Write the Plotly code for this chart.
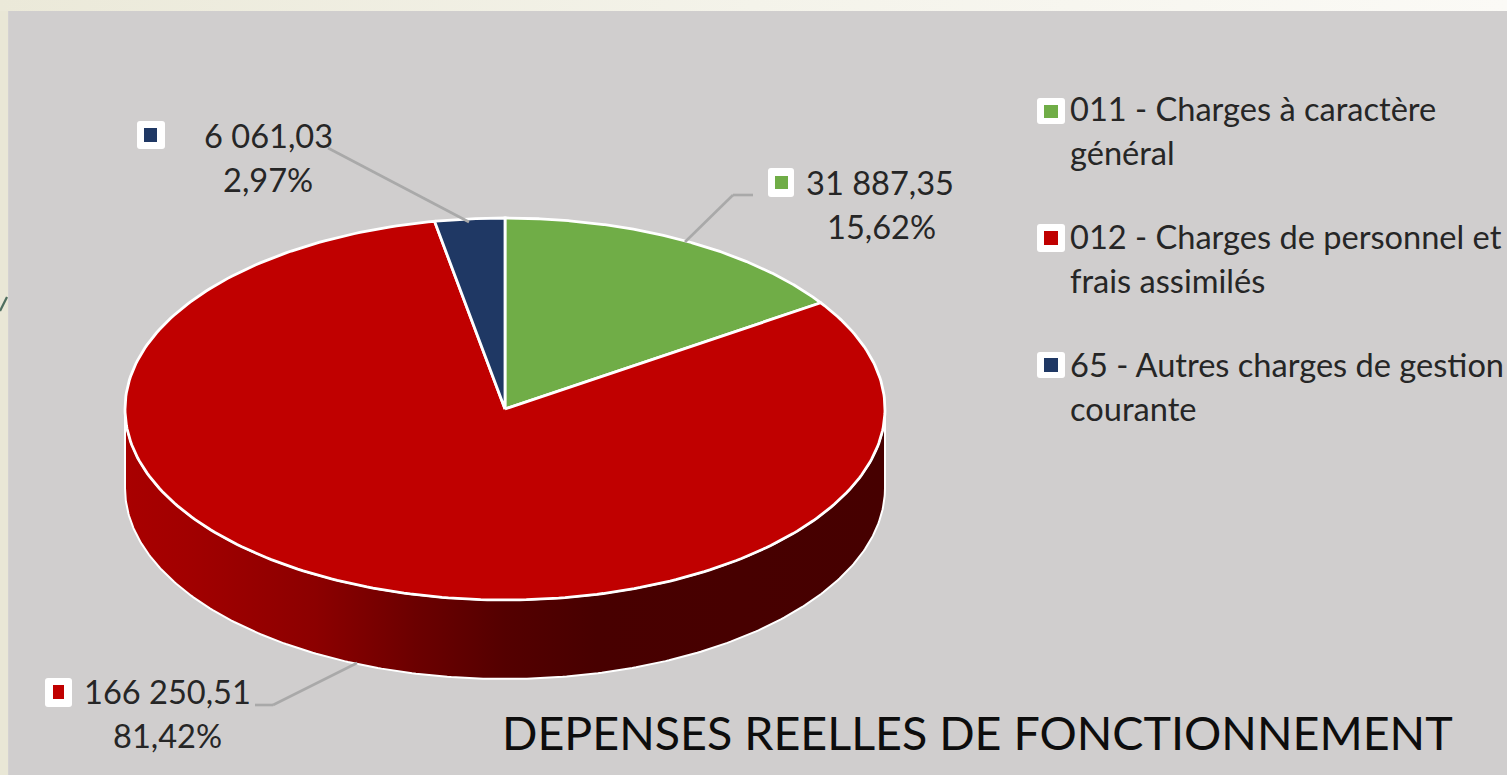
import numpy as np
import plotly.graph_objects as go

# ---- data ----
categories = ["011 - Charges à caractère général",
              "012 - Charges de personnel et frais assimilés",
              "65 - Autres charges de gestion courante"]
values = [31887.35, 166250.51, 6061.03]
value_labels = ["31 887,35", "166 250,51", "6 061,03"]
percent_labels = ["15,62%", "81,42%", "2,97%"]
colors = ["#70ad47", "#c00000", "#1f3864"]
legend_lines = [["011 - Charges à caractère", "général"],
                ["012 - Charges de personnel et", "frais assimilés"],
                ["65 - Autres charges de gestion", "courante"]]
chart_title = "DEPENSES REELLES DE FONCTIONNEMENT"

W, H = 1507, 775
CX, CY, RX, RY, DEPTH = 505, 409, 380, 191, 79
FONT = "Lato"
TEXT = "#262626"
LABEL_SIZE = 32.6


def arc(t0, t1, dy=0, n=300):
    t = np.linspace(t0, t1, n)
    return CX + RX * np.sin(t), CY - RY * np.cos(t) + dy


fig = go.Figure()

# page band and grey panel
fig.add_trace(go.Scatter(
    x=[0, W, W, 0, 0], y=[0, 0, 11, 11, 0], mode="lines", fill="toself",
    line=dict(width=0), hoverinfo="skip", showlegend=False,
    fillgradient=dict(type="horizontal", start=0, stop=W,
                      colorscale=[[0, "#ebe9d9"], [0.5, "#f4f3ea"], [1, "#fbfaf6"]])))

# side wall of the disc with its horizontal shading
xt, yt = arc(np.pi / 2, 3 * np.pi / 2)
xb, yb = arc(3 * np.pi / 2, np.pi / 2, DEPTH)
fig.add_trace(go.Scatter(
    x=np.r_[xt, xb, xt[0]], y=np.r_[yt, yb, yt[0]], mode="lines", fill="toself",
    line=dict(color="white", width=2), hoverinfo="skip", showlegend=False,
    fillgradient=dict(type="horizontal", start=CX - RX, stop=CX + RX,
                      colorscale=[[0, "#a80000"], [0.08, "#a20000"], [0.25, "#8c0000"],
                                  [0.38, "#6c0000"], [0.5, "#540000"], [0.62, "#480000"],
                                  [1, "#460000"]])))

# top face: wedges follow the values, clockwise from twelve o'clock
fractions = np.array(values) / np.sum(values)
edges = np.r_[0, np.cumsum(fractions)] * 2 * np.pi
for i, name in enumerate(categories):
    x, y = arc(edges[i], edges[i + 1])
    fig.add_trace(go.Scatter(
        x=np.r_[CX, x, CX], y=np.r_[CY, y, CY], mode="lines", fill="toself",
        fillcolor=colors[i], line=dict(color="white", width=2.8),
        name=name, hovertemplate=f"{name}<br>{value_labels[i]}<br>{percent_labels[i]}<extra></extra>",
        showlegend=False))

shapes = [
    dict(type="rect", xref="x", yref="y", x0=8, x1=W + 2, y0=10, y1=H + 2,
         fillcolor="#d0cece", line=dict(color="#d8d6d6", width=1), layer="below"),
    dict(type="rect", xref="x", yref="y", x0=-2, x1=8, y0=0, y1=H + 2,
         fillcolor="#e9e7d6", line=dict(width=0), layer="below"),
    dict(type="line", xref="x", yref="y", x0=0, y0=311, x1=7, y1=297,
         line=dict(color="#4f6f5f", width=2.2)),
]
annotations = []


def add_key(x0, y0, x1, y1, ix0, iy0, ix1, iy1, color):
    r = 3
    path = (f"M{x0+r},{y0} L{x1-r},{y0} Q{x1},{y0} {x1},{y0+r} L{x1},{y1-r} Q{x1},{y1} {x1-r},{y1} "
            f"L{x0+r},{y1} Q{x0},{y1} {x0},{y1-r} L{x0},{y0+r} Q{x0},{y0} {x0+r},{y0} Z")
    shapes.append(dict(type="path", xref="x", yref="y", path=path,
                       fillcolor="white", line=dict(width=0)))
    shapes.append(dict(type="rect", xref="x", yref="y", x0=ix0, y0=iy0, x1=ix1, y1=iy1,
                       fillcolor=color, line=dict(width=0)))


def add_text(x, y, text, size=LABEL_SIZE, anchor="left", color=TEXT):
    annotations.append(dict(x=x, y=y, xref="x", yref="y", text=text, showarrow=False,
                            xanchor=anchor, yanchor="middle", align=anchor,
                            font=dict(family=FONT, size=size, color=color)))


# legend
legend_keys = [(1037, 98, 1065, 124, 1044, 105, 1058, 118),
               (1037, 224, 1065, 252, 1044, 231, 1058, 245),
               (1037, 352, 1065, 378, 1044, 358, 1058, 372)]
legend_rows = [(108, 152), (236, 280), (364, 408)]
for i in range(3):
    add_key(*legend_keys[i], colors[i])
    for line, y in zip(legend_lines[i], legend_rows[i]):
        add_text(1068, y, line)

# data labels
label_keys = [(768, 168, 794, 197, 775, 176, 788, 189),
              (45, 678, 72, 707, 53, 685, 64, 699),
              (137, 121, 165, 149, 144, 128, 157, 142)]
label_pos = [(880, 182, 881, 226), (167, 691, 167, 735), (268, 135, 268, 179)]
leaders = [[(753, 195), (733, 195), (685, 242)],
           [(255, 705), (273, 705), (357, 663)],
           [(328, 148), (469, 222)]]
for i in range(3):
    add_key(*label_keys[i], colors[i])
    xv, yv, xp, yp = label_pos[i]
    add_text(xv, yv, value_labels[i], anchor="center")
    add_text(xp, yp, percent_labels[i], anchor="center")
    pts = leaders[i]
    for a, b in zip(pts[:-1], pts[1:]):
        shapes.append(dict(type="line", xref="x", yref="y", x0=a[0], y0=a[1], x1=b[0], y1=b[1],
                           line=dict(color="#a9a9a9", width=2.6)))

# title
add_text(977, 732, chart_title, size=46.6, anchor="center", color="#0d0d0d")

fig.update_layout(
    width=W, height=H, margin=dict(l=0, r=0, t=0, b=0, pad=0),
    paper_bgcolor="#ebe9d9", plot_bgcolor="rgba(0,0,0,0)",
    xaxis=dict(range=[0, W], visible=False, fixedrange=True),
    yaxis=dict(range=[H, 0], visible=False, fixedrange=True),
    shapes=shapes, annotations=annotations, showlegend=False)

fig.write_html("out.html", config=dict(displayModeBar=False),
               post_script="document.body.style.margin='0';document.body.style.overflow='hidden';")
